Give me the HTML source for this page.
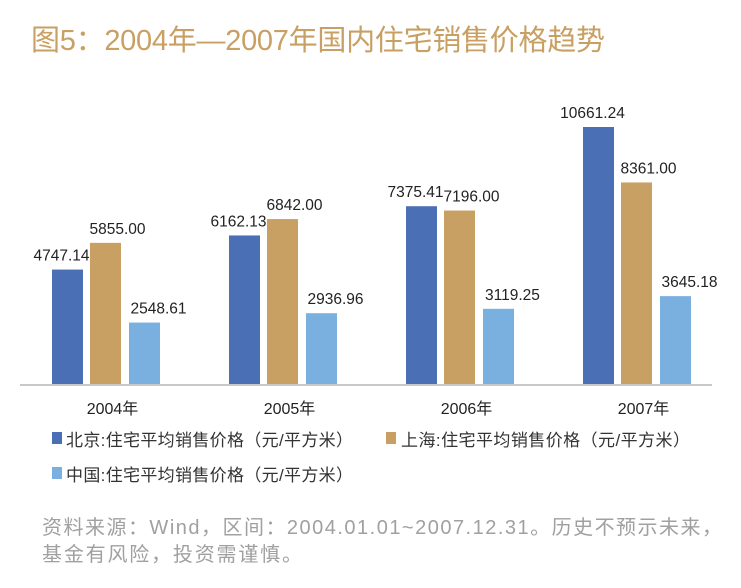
<!DOCTYPE html>
<html><head><meta charset="utf-8"><style>
body{margin:0;background:#fff;}
svg{display:block;font-family:"Liberation Sans","Noto Sans CJK SC",sans-serif;}
</style></head><body>
<svg id="chart" width="741" height="588">
<text x="31" y="50" font-size="29" fill="#c9a063" textLength="574">图5：2004年—2007年国内住宅销售价格趋势</text>
<g id="bars"></g>
<line x1="20" y1="385" x2="712" y2="385" stroke="#c8c8c8" stroke-width="2"/>
<g id="xlabels"></g>
<g>
<rect x="52" y="432" width="10" height="12" fill="#4a6fb5"/>
<text x="66" y="446" font-size="17" fill="#333" textLength="287">北京:住宅平均销售价格（元/平方米）</text>
<rect x="386" y="432" width="10" height="12" fill="#c9a063"/>
<text x="401" y="446" font-size="17" fill="#333" textLength="289">上海:住宅平均销售价格（元/平方米）</text>
<rect x="52" y="467" width="10" height="12" fill="#7ab0e0"/>
<text x="66" y="481" font-size="17" fill="#333" textLength="287">中国:住宅平均销售价格（元/平方米）</text>
</g>
<text x="42" y="534" font-size="20" fill="#a0a0a0" textLength="680">资料来源：Wind，区间：2004.01.01~2007.12.31。历史不预示未来，</text>
<text x="42" y="561" font-size="20" fill="#a0a0a0" textLength="260">基金有风险，投资需谨慎。</text>
</svg>
<script>
const categories=["2004年","2005年","2006年","2007年"];
const beijing=[4747.14,6162.13,7375.41,10661.24];
const shanghai=[5855.00,6842.00,7196.00,8361.00];
const china=[2548.61,2936.96,3119.25,3645.18];
const seriesNames=["beijing","shanghai","china"];
const colors=["#4a6fb5","#c9a063","#7ab0e0"];
const NS="http://www.w3.org/2000/svg";
const x0=17,x1=725,base=384,yMaxVal=10661.24,yMaxPx=257;
function y(v){return base - v/yMaxVal*yMaxPx;}
function bandCenter(i){const w=(x1-x0)/categories.length;return x0+w*(i+0.5);}
const bw=31,offs=[-38,0,39],labelOffs=[-6,12,14];
const series=[beijing,shanghai,china];
const g=document.getElementById('bars');
series.forEach((s,si)=>{
  s.forEach((v,i)=>{
    const cx=bandCenter(i)+offs[si];
    const r=document.createElementNS(NS,'rect');
    r.setAttribute('x',cx-bw/2);r.setAttribute('y',y(v));
    r.setAttribute('width',bw);r.setAttribute('height',base-y(v)+1);
    r.setAttribute('fill',colors[si]);
    
    
    g.appendChild(r);
  });
});
series.forEach((s,si)=>{
  s.forEach((v,i)=>{
    const cx=bandCenter(i)+offs[si];
    const t=document.createElementNS(NS,'text');
    t.setAttribute('x',cx+labelOffs[si]);t.setAttribute('y',y(v)-9);
    t.setAttribute('text-anchor','middle');t.setAttribute('font-size','15.5');t.setAttribute('fill','#222');
    t.textContent=v.toFixed(2);
    
    
    g.appendChild(t);
  });
});
const xl=document.getElementById('xlabels');
categories.forEach((c,i)=>{
  const t=document.createElementNS(NS,'text');
  t.setAttribute('x',bandCenter(i)+7);t.setAttribute('y',414);
  t.setAttribute('text-anchor','middle');t.setAttribute('font-size','16');t.setAttribute('fill','#222');
  t.textContent=c;
  
  
  xl.appendChild(t);
});
</script>
</body></html>
